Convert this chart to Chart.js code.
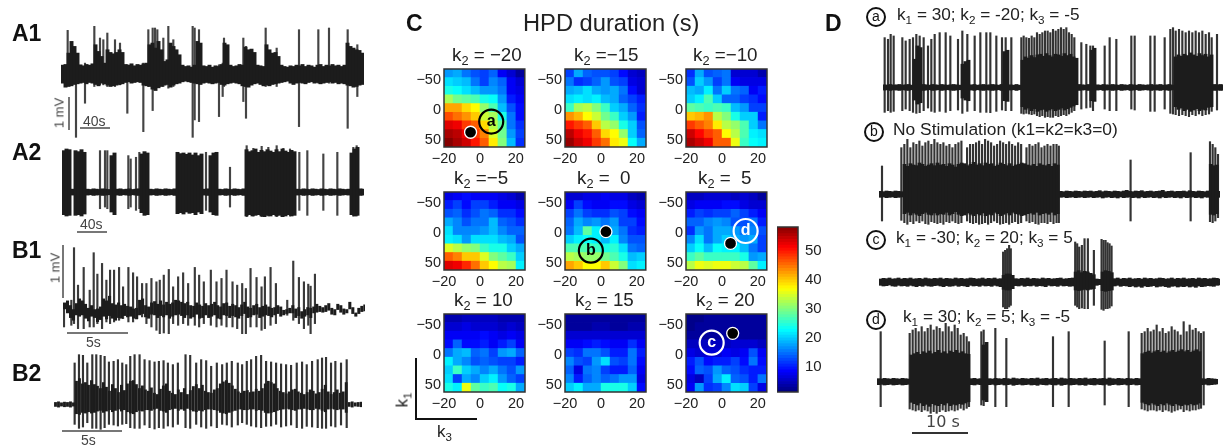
<!DOCTYPE html>
<html>
<head>
<meta charset="utf-8">
<script src="https://cdn.jsdelivr.net/npm/chart.js@4"></script>
<style>
  html, body { margin: 0; background: #fff; overflow: hidden; }
  #page { position: relative; width: 1232px; height: 446px; font-family: "Liberation Sans", Arial, sans-serif; color: #222; }
  canvas { position: absolute; filter: blur(0.45px); }
  .t { position: absolute; white-space: nowrap; line-height: 1; filter: blur(0.25px); }
  .h { font-weight: bold; font-size: 23px; color: #111; }
  .t sub { font-size: 68%; vertical-align: -0.32em; line-height: 0; }
  .bar { position: absolute; background: #777; }
  .ring { position: absolute; width: 16px; height: 16px; border: 2px solid #111; border-radius: 50%; text-align: center; font-size: 14px; line-height: 15px; color: #111; background: #fff; }
  .rot { transform: translate(-50%, -50%) rotate(-90deg); }
</style>
</head>
<body>
<div id="page">
  <div class="t h" style="left:12px;top:22px">A1</div>
  <div class="t h" style="left:12px;top:141px">A2</div>
  <div class="t h" style="left:12px;top:239px">B1</div>
  <div class="t h" style="left:12px;top:362px">B2</div>
  <div class="t h" style="left:406px;top:12px">C</div>
  <div class="t h" style="left:825px;top:12px">D</div>
  <div class="t" style="left:523px;top:12px;font-size:23.7px">HPD duration (s)</div>

  <div class="bar" style="left:68px;top:97px;width:2px;height:33px"></div>
  <div class="t rot" style="left:59px;top:113px;font-size:13px;color:#444">1 mV</div>
  <div class="bar" style="left:80px;top:127px;width:30px;height:2px"></div>
  <div class="t" style="left:83px;top:114px;font-size:14px;color:#444">40s</div>
  <div class="bar" style="left:77px;top:231px;width:30px;height:2px"></div>
  <div class="t" style="left:80px;top:217px;font-size:14px;color:#444">40s</div>
  <div class="bar" style="left:62px;top:245px;width:2px;height:53px"></div>
  <div class="t rot" style="left:55px;top:268px;font-size:13px;color:#444">1 mV</div>
  <div class="bar" style="left:67px;top:332px;width:61px;height:2px"></div>
  <div class="t" style="left:86px;top:335px;font-size:14px;color:#444">5s</div>
  <div class="bar" style="left:62px;top:430px;width:60px;height:2px"></div>
  <div class="t" style="left:81px;top:433px;font-size:14px;color:#444">5s</div>

  <div class="bar" style="left:415px;top:358px;width:2px;height:62px;background:#111"></div>
  <div class="bar" style="left:415px;top:418px;width:62px;height:2px;background:#111"></div>
  <div class="t rot" style="left:402px;top:400px;font-size:17px">k<sub>1</sub></div>
  <div class="t" style="left:437px;top:423px;font-size:17px">k<sub>3</sub></div>

  <div class="ring" style="left:866px;top:7px">a</div>
  <div class="t" style="left:897px;top:5.6px;font-size:17.2px">k<sub>1</sub> = 30; k<sub>2</sub> = -20; k<sub>3</sub> = -5</div>
  <div class="ring" style="left:864px;top:122px">b</div>
  <div class="t" style="left:893px;top:121.3px;font-size:17.4px">No Stimulation (k1=k2=k3=0)</div>
  <div class="ring" style="left:866px;top:230px">c</div>
  <div class="t" style="left:896px;top:228.6px;font-size:17.2px">k<sub>1</sub> = -30; k<sub>2</sub> = 20; k<sub>3</sub> = 5</div>
  <div class="ring" style="left:866px;top:310px">d</div>
  <div class="t" style="left:903px;top:308.3px;font-size:17.2px">k<sub>1</sub> = 30; k<sub>2</sub> = 5; k<sub>3</sub> = -5</div>
  <div class="t" style="left:926px;top:414px;font-size:16px;font-family:'DejaVu Sans';color:#444">10 s</div>
  <div class="bar" style="left:912px;top:432px;width:56px;height:1.5px;background:#333"></div>
</div>

<script>
// heat map axes
const k3 = [-17.5, -12.5, -7.5, -2.5, 2.5, 7.5, 12.5, 17.5, 22.5];
const k1 = [-61, -46.7, -32.3, -18, -3.7, 10.7, 25, 39.3, 53.7];
const k3Ticks = [-20, 0, 20];
const k1Ticks = [-50, 0, 50];
const barTicks = [10, 20, 30, 40, 50];
const barSteps = [1,2,3,4,5,6,7,8,9,10,11,12,13,14,15,16,17,18,19,20,21,22,23,24,25,26,27,28,29,30,31,32,33,34,35,36,37,38,39,40,41,42,43,44,45,46,47,48,49,50,51,52,53,54,55,56,57,58];

const k2Titles = ['= \u221220', '=\u221215', '=\u221210', '=\u22125', '=  0', '=  5', '= 10', '= 15', '= 20'];

// HPD duration per k2, rows are k1 and columns k3
const k2m20 = [[17,18,15,13,12,14,8,6,3],[21,20,19,15,12,16,14,8,6],[24,23,21,19,17,17,15,8,7],[32,29,28,27,24,23,17,10,8],[42,42,39,37,31,27,19,13,9],[47,45,43,40,34,32,24,15,9],[53,52,48,46,39,33,28,15,11],[56,55,52,48,44,35,29,17,12],[58,56,54,50,46,38,30,19,11]];
const k2m15 = [[12,18,14,13,13,12,9,6,5],[15,11,12,14,17,13,12,7,6],[18,19,21,18,17,18,15,9,6],[21,22,21,22,19,18,14,12,10],[26,32,33,30,26,20,18,14,11],[43,41,37,34,29,26,20,17,10],[50,48,46,40,33,31,24,20,13],[55,52,50,46,39,37,31,20,14],[57,54,52,48,45,38,36,23,18]];
const k2m10 = [[11,18,13,14,15,6,6,6,4],[13,20,17,12,15,8,7,7,7],[19,18,22,15,20,15,14,8,10],[20,22,27,20,14,14,12,11,9],[28,27,26,27,26,19,17,12,12],[40,41,43,33,30,24,20,20,10],[48,46,44,38,33,31,27,20,15],[54,51,48,46,37,33,27,22,21],[56,54,52,46,46,36,26,23,22]];
const k2m5 = [[7,8,9,8,8,8,7,6,4],[10,12,9,12,12,10,8,8,7],[13,14,11,13,15,14,11,11,9],[18,16,13,15,15,19,14,13,11],[21,16,16,16,17,19,16,14,14],[22,21,17,21,21,21,19,18,13],[35,33,31,30,26,24,24,20,18],[46,44,40,40,35,30,28,26,20],[53,52,49,45,40,37,33,32,22]];
const k2p0 = [[6,6,7,7,8,7,7,5,4],[8,12,9,8,8,9,9,7,6],[12,15,12,11,11,13,12,9,8],[14,18,16,17,15,17,12,12,9],[15,19,28,22,14,18,15,11,10],[20,22,23,22,19,22,16,13,13],[27,27,27,26,24,25,21,15,14],[33,32,31,31,29,27,24,19,20],[42,40,37,37,40,34,30,21,22]];
const k2p5 = [[5,5,6,6,6,5,6,5,3],[7,8,8,8,9,9,7,6,6],[10,12,11,12,12,14,12,10,8],[14,14,16,17,16,13,13,15,10],[11,17,15,18,18,17,15,16,13],[16,21,15,18,20,18,17,18,12],[20,23,19,23,22,22,19,15,12],[26,28,26,26,26,26,24,17,18],[33,36,35,36,36,34,33,28,22]];
const k2p10 = [[4,4,5,5,5,5,4,4,4],[6,6,7,6,6,6,5,6,5],[8,8,8,8,9,8,7,8,7],[9,14,9,9,10,8,10,12,8],[15,18,19,14,15,12,17,18,14],[22,18,16,13,14,13,12,12,10],[20,26,20,18,16,18,15,13,17],[21,12,18,16,20,22,17,14,12],[24,22,36,28,26,27,23,24,18]];
const k2p15 = [[3,3,3,3,3,3,3,3,3],[3,3,3,4,4,3,3,4,4],[6,6,6,6,6,6,6,6,6],[8,8,9,10,9,8,8,11,8],[12,11,15,15,13,10,10,15,10],[16,13,12,17,21,13,12,15,9],[14,7,15,16,12,10,10,14,8],[16,10,14,16,14,15,17,17,7],[20,22,18,18,24,24,24,20,9]];
const k2p20 = [[2,2,3,3,3,3,3,3,3],[2,3,3,3,3,3,3,3,3],[3,3,3,3,3,3,3,3,3],[5,5,5,5,5,6,6,6,5],[7,6,6,6,8,7,8,13,8],[10,13,9,10,10,12,9,15,9],[9,14,13,17,14,13,11,10,10],[7,5,12,18,22,14,13,10,15],[8,17,11,12,16,21,20,12,7]];

// black dots and lettered rings on the heat maps
const dotPanel = [0, 4, 5, 8];
const dotK3 = [-5.2, 2.8, 4.8, 6];
const dotK1 = [36.6, -2.4, 17, -36];
const ringPanel = [0, 4, 5, 8];
const ringK3 = [6.3, -5.6, 13.2, -5.7];
const ringK1 = [19, 29, -3.5, -20.6];
const ringLetter = ['a', 'b', 'd', 'c'];

// recordings: envelope per time bin (Top, Bot) and single spikes (T, Hi, Lo)
const a1Top = [24,26,60,95,80,60,25,22,26,24,28,85,65,50,30,70,62,58,62,70,62,26,24,28,22,26,24,28,30,85,90,75,95,70,35,40,90,80,70,55,24,20,22,18,24,95,90,22,20,24,18,22,20,26,90,85,24,20,22,26,24,78,70,72,62,24,22,20,85,70,60,62,50,24,20,18,22,20,24,22,26,20,24,22,18,24,26,20,24,22,26,22,24,20,24,90,80,75,70,68,60];
const a1Bot = [-30,-42,-40,-38,-34,-32,-30,-28,-32,-28,-30,-34,-38,-30,-32,-36,-40,-38,-36,-34,-32,-28,-26,-30,-28,-26,-28,-36,-38,-40,-48,-52,-44,-40,-36,-34,-42,-36,-32,-30,-26,-24,-26,-28,-30,-32,-34,-30,-28,-30,-32,-30,-28,-34,-36,-32,-30,-28,-30,-32,-38,-40,-42,-36,-32,-30,-34,-38,-36,-38,-34,-32,-30,-28,-26,-24,-30,-34,-30,-28,-30,-32,-28,-26,-30,-28,-32,-30,-28,-26,-30,-28,-32,-30,-32,-36,-38,-42,-40,-36,-34];
const a1SpikeT = [203,228,255,283,300,310,322,345,360,382,430,445,458,465,472,490,505,520,578,584,597,657,668,672,730,738,797,830,897,955,987,1043,1072];
const a1SpikeHi = [128,30,30,140,105,100,120,100,90,25,30,130,135,135,130,105,140,100,140,135,130,25,30,105,105,80,135,75,130,130,135,130,85];
const a1SpikeLo = [-35,-192,-90,-40,-35,-35,-40,-40,-35,-120,-175,-40,-112,-45,-40,-40,-45,-40,-192,-140,-145,-130,-70,-40,-85,-135,-40,-40,-160,-30,-30,-165,-70];

const a2Top = [125,130,128,9,125,122,128,120,9,8,10,9,8,10,9,8,110,118,9,10,8,9,10,8,9,10,115,122,118,9,8,10,9,8,10,9,8,10,120,116,118,114,118,112,118,110,115,9,10,110,118,120,9,8,10,9,8,10,9,8,10,128,122,125,130,120,126,122,128,124,120,128,122,130,124,120,126,122,9,8,10,9,8,10,9,8,10,9,8,10,9,8,10,9,8,9,118,130,135,10,9];
const a2Bot = [-68,-72,-70,-9,-70,-68,-72,-66,-9,-8,-10,-9,-8,-10,-9,-8,-60,-68,-9,-10,-8,-9,-10,-8,-9,-10,-62,-70,-68,-9,-8,-10,-9,-8,-10,-9,-8,-10,-65,-62,-66,-60,-64,-62,-68,-60,-65,-9,-10,-60,-68,-70,-9,-8,-10,-9,-8,-10,-9,-8,-10,-72,-68,-72,-70,-68,-72,-74,-70,-72,-68,-72,-70,-74,-72,-68,-72,-70,-9,-8,-10,-9,-8,-10,-9,-8,-10,-9,-8,-10,-9,-8,-10,-9,-8,-9,-68,-72,-70,-10,-9];
const a2SpikeT = [300,315,322,385,392,408,418,618,690,740,760,785,805,830,850,870,898,922,970,1012,1060,1070];
const a2SpikeHi = [125,125,125,110,100,105,120,120,75,140,132,138,135,140,132,130,120,125,115,120,135,140];
const a2SpikeLo = [-50,-45,-50,-50,-45,-55,-50,-55,-45,-74,-72,-74,-72,-74,-72,-72,-55,-70,-55,-70,-72,-72];

const b1Top = [22,28,14,2,20,34,28,18,6,14,2,4,10,34,28,42,20,16,22,14,18,12,10,4,6,30,34,14,10,22,26,18,28,16,24,18,22,30,28,24,20,24,14,12,22,16,12,20,14,18,24,14,10,20,22,12,18,14,8,16,24,10,6,14,18,8,12,16,10,6,8,14,10,0,2,6,14,4,8,-4,2,8,6,10,18,12,8,14,20,6,2,18,14,4,2,24,8,-8,6,12,16];
const b1Bot = [4,-8,-22,-30,-14,-18,-14,-24,-32,-18,-22,-34,-28,-18,-26,-16,-24,-30,-22,-24,-16,-20,-18,-24,-26,-14,-10,-20,-24,-12,-14,-22,-16,-20,-14,-24,-18,-14,-12,-16,-22,-14,-24,-20,-12,-24,-22,-14,-22,-18,-14,-24,-26,-14,-16,-22,-16,-20,-24,-16,-10,-22,-20,-14,-12,-22,-18,-14,-16,-20,-14,-10,-18,-14,-10,-8,-8,-22,-16,-24,-18,-14,-22,-8,-6,-4,-6,-4,0,-12,-14,2,-6,-12,-8,4,-10,-18,-10,-4,-2];
const b1SpikeT = [193,215,223,235,252,270,282,293,307,320,331,343,358,370,386,400,412,427,440,455,470,480,492,507,520,535,550,565,585,598,612,633,650,665,680,698,712,727,738,752,770,785,795,812,828,862,880,897,912,925,932,945];
const b1SpikeHi = [15,30,187,75,128,60,172,108,140,90,120,120,128,70,128,112,100,80,80,95,85,90,105,122,70,100,112,80,128,105,85,120,85,95,120,85,75,80,65,125,98,70,100,128,80,30,147,98,85,78,72,108];
const b1SpikeLo = [-50,-45,-40,-55,-55,-50,-50,-40,-55,-35,-40,-35,-30,-25,-35,-35,-25,-20,-40,-50,-60,-70,-68,-70,-40,-45,-40,-45,-45,-50,-40,-45,-50,-45,-50,-50,-55,-70,-70,-50,-50,-60,-55,-45,-40,-15,-30,-40,-55,-45,-70,-40];

const b2Top = [6,8,5,7,6,8,5,70,78,62,66,58,72,60,55,48,66,52,40,60,48,36,58,42,62,70,72,60,48,56,44,40,50,34,30,46,56,62,40,34,30,44,36,48,30,42,54,60,48,58,40,36,34,44,48,62,68,72,64,56,46,38,34,40,42,36,38,46,40,48,62,70,66,62,48,40,36,32,38,44,46,38,34,30,36,44,40,32,36,46,58,38,30,36,44,34,38,66,6,8,5,6,7];
const b2Bot = [-6,-8,-5,-7,-6,-8,-5,-28,-30,-24,-26,-22,-26,-24,-20,-18,-24,-20,-16,-22,-18,-14,-20,-16,-22,-26,-28,-22,-18,-20,-16,-16,-18,-14,-12,-18,-20,-24,-16,-14,-12,-18,-14,-18,-12,-16,-20,-22,-18,-20,-16,-14,-14,-16,-18,-24,-26,-28,-24,-20,-18,-14,-14,-16,-16,-14,-14,-18,-16,-18,-24,-26,-24,-22,-18,-16,-14,-12,-14,-16,-18,-14,-14,-12,-14,-16,-16,-12,-14,-18,-22,-14,-12,-14,-16,-14,-14,-24,-6,-8,-5,-6,-7];
const b2SpikeT = [225,238,250,263,278,290,303,315,328,342,355,368,380,392,405,420,435,450,465,478,492,505,520,535,558,572,590,605,620,635,652,668,682,697,715,728,742,755,770,785,800,815,830,845,860,875,892,908,922,938,955,968,980,995,1008,1025,1042];
const b2SpikeHi = [125,150,148,125,150,150,148,145,128,130,135,125,120,145,150,150,135,132,128,130,132,125,120,125,150,148,125,135,132,115,125,120,125,130,125,120,130,135,145,148,130,128,125,122,120,118,125,128,120,130,135,140,142,125,130,125,135];
const b2SpikeLo = [-60,-72,-68,-55,-72,-72,-75,-70,-60,-62,-65,-60,-58,-70,-72,-72,-62,-70,-74,-70,-72,-65,-68,-60,-70,-72,-60,-68,-72,-65,-70,-60,-62,-68,-62,-55,-60,-65,-68,-70,-66,-65,-60,-68,-65,-62,-70,-72,-66,-68,-70,-72,-72,-65,-68,-62,-70];

const daTop = [8,7,9,7,8,9,7,8,9,7,85,125,120,9,8,7,9,8,7,9,8,7,8,9,8,7,70,78,82,8,9,7,8,9,7,8,9,8,7,9,108,112,8,7,9,7,82,92,88,96,90,98,100,94,102,96,92,100,98,94,102,96,100,92,88,9,8,7,9,112,118,8,7,9,8,7,9,8,7,9,8,7,9,8,7,9,8,7,8,9,7,8,9,7,8,9,7,92,98,94,100,96,104,98,94,102,96,100,92,98,9,8,9,8];
const daBot = [-8,-7,-9,-7,-8,-9,-7,-8,-9,-7,-38,-50,-46,-9,-8,-7,-9,-8,-7,-9,-8,-7,-8,-9,-8,-7,-32,-38,-40,-8,-9,-7,-8,-9,-7,-8,-9,-8,-7,-9,-40,-42,-8,-7,-9,-7,-58,-66,-62,-70,-64,-72,-68,-66,-72,-68,-64,-70,-66,-62,-68,-64,-60,-56,-52,-9,-8,-7,-9,-40,-42,-8,-7,-9,-8,-7,-9,-8,-7,-9,-8,-7,-9,-8,-7,-9,-8,-7,-8,-9,-7,-8,-9,-7,-8,-9,-7,-58,-66,-62,-70,-66,-72,-68,-64,-70,-66,-68,-60,-58,-9,-8,-9,-8];
const daSpikeT = [195,205,213,222,248,258,270,280,290,300,312,325,335,345,360,378,392,415,428,443,465,482,500,512,530,547,558,575,605,612,620,628,636,644,652,660,668,676,684,692,700,708,716,724,732,740,748,756,764,785,800,812,820,855,870,890,935,945,992,1005,1035,1052,1060,1068,1078,1088,1098,1108,1118,1128,1138,1148,1158,1168,1176,1192];
const daSpikeHi = [150,145,160,155,150,140,145,150,160,155,150,125,145,160,165,165,155,145,170,160,155,165,165,165,155,150,150,150,150,155,150,148,155,150,165,160,165,170,170,165,175,170,175,180,175,180,165,160,150,135,130,125,125,125,150,145,155,155,155,155,150,175,180,170,175,170,165,170,165,170,165,170,160,165,150,160];
const daSpikeLo = [-75,-70,-75,-72,-70,-65,-70,-75,-78,-76,-70,-62,-72,-75,-72,-75,-70,-68,-78,-72,-70,-75,-75,-76,-72,-68,-70,-70,-78,-80,-78,-80,-82,-80,-85,-88,-85,-90,-88,-90,-90,-85,-88,-85,-82,-85,-80,-75,-70,-65,-62,-60,-70,-65,-70,-70,-65,-68,-72,-72,-65,-78,-80,-82,-85,-82,-85,-88,-82,-85,-80,-85,-82,-80,-72,-68];

const dbTop = [9,8,10,9,8,10,9,8,90,84,92,88,86,94,90,84,88,92,86,94,88,90,84,92,88,82,90,94,92,86,90,96,88,92,86,94,90,92,84,88,94,90,86,92,84,88,90,94,92,88,86,90,84,92,88,86,90,84,92,88,9,8,10,9,8,10,9,8,10,9,10,8,9,11,8,10,9,8,10,9,8,10,12,9,8,10,9,11,8,9,10,8,9,10,12,8,9,10,8,9,9,10,8,11,9,8,10,9,8,10,90,86,88,9];
const dbBot = [-9,-8,-10,-9,-8,-10,-9,-8,-58,-54,-62,-56,-60,-64,-58,-54,-60,-62,-56,-62,-58,-60,-54,-62,-58,-52,-60,-64,-62,-56,-60,-64,-58,-62,-56,-64,-60,-62,-54,-58,-64,-60,-56,-62,-54,-58,-60,-64,-62,-58,-56,-60,-54,-62,-58,-56,-60,-54,-62,-58,-9,-8,-10,-9,-8,-10,-9,-8,-10,-9,-8,-10,-9,-8,-11,-9,-8,-10,-9,-11,-8,-10,-9,-8,-10,-9,-11,-8,-10,-9,-8,-10,-9,-11,-8,-10,-9,-8,-10,-9,-11,-8,-10,-9,-8,-10,-9,-11,-8,-9,-60,-62,-58,-9];
const dbSpikeT = [187,245,254,263,272,281,290,299,308,317,326,335,344,353,362,371,380,389,398,407,416,425,442,451,460,469,478,487,496,505,514,523,532,541,550,559,568,577,586,595,604,620,629,638,647,656,665,674,683,692,701,710,717,932,1112,1170,1178,1186,1194];
const dbSpikeHi = [85,140,150,165,140,155,150,160,145,155,160,150,165,155,150,155,145,150,140,150,155,160,140,150,150,155,160,150,165,160,155,145,150,160,155,150,158,150,145,155,150,140,150,145,150,155,140,145,150,145,150,150,145,103,125,158,150,140,120];
const dbSpikeLo = [-80,-78,-85,-90,-82,-88,-80,-85,-80,-88,-90,-82,-85,-88,-85,-90,-82,-85,-80,-85,-88,-85,-80,-85,-88,-85,-90,-88,-85,-90,-85,-80,-85,-90,-88,-85,-90,-85,-82,-88,-85,-80,-85,-82,-88,-90,-85,-85,-88,-82,-88,-85,-85,-80,-80,-82,-85,-80,-70];

const dcTop = [9,11,10,12,9,10,12,9,11,10,12,9,10,11,9,12,10,9,11,10,12,9,11,10,9,12,10,11,9,10,12,11,9,10,12,9,11,10,12,9,10,20,24,24,20,10,9,11,10,12,9,11,10,9,12,10,11,9,10,11,12,9,10,11,12,30,34,28,32,30,26,22,9,8,30,34,32,28,10,12,9,11,10,12,9,10,11,9,12,10,11,9,10,12,11,9,10,12,9,11,10,12,9,10,11,9,12,10,11,9,10,12,11,9];
const dcBot = [-10,-12,-11,-9,-12,-13,-10,-12,-11,-13,-10,-12,-14,-11,-13,-10,-12,-13,-11,-10,-12,-14,-11,-13,-12,-10,-13,-11,-12,-14,-10,-12,-11,-13,-10,-12,-11,-13,-10,-12,-14,-22,-24,-24,-20,-11,-12,-10,-13,-11,-12,-10,-13,-11,-12,-14,-10,-12,-11,-13,-10,-12,-11,-13,-12,-24,-26,-24,-22,-24,-22,-20,-10,-8,-26,-28,-26,-24,-12,-10,-13,-11,-12,-14,-12,-15,-13,-16,-12,-14,-13,-11,-15,-13,-12,-14,-16,-13,-12,-15,-13,-14,-12,-15,-13,-16,-12,-14,-13,-11,-12,-13,-10,-9];
const dcSpikeT = [550,556,562,568,573,766,772,778,786,794,804,822,845,851,857,863,869,875];
const dcSpikeHi = [90,95,100,110,100,120,115,105,110,130,130,95,128,125,125,118,115,108];
const dcSpikeLo = [-75,-80,-80,-75,-70,-70,-75,-80,-78,-80,-80,-70,-82,-85,-80,-80,-78,-72];

const ddTop = [9,8,10,9,8,10,9,8,10,9,8,80,84,88,82,90,86,92,84,88,94,86,90,84,92,88,94,86,90,84,82,9,10,8,9,110,118,9,8,10,9,8,10,9,8,11,9,8,10,9,8,10,9,11,8,9,10,8,9,10,8,11,9,8,10,9,8,10,9,11,8,9,10,8,9,10,8,11,9,8,10,9,8,10,9,8,10,9,84,88,92,86,90,94,88,92,86,90,94,88,92,96,90,94,88,92,96,90,9,8,10,9,8,7];
const ddBot = [-9,-8,-10,-9,-8,-10,-9,-8,-10,-9,-8,-62,-66,-70,-64,-72,-68,-74,-66,-70,-72,-66,-70,-64,-72,-68,-70,-66,-68,-64,-60,-9,-10,-8,-9,-55,-60,-9,-8,-10,-9,-8,-10,-9,-8,-11,-9,-8,-10,-9,-8,-10,-9,-11,-8,-9,-10,-8,-9,-10,-8,-11,-9,-8,-10,-9,-8,-10,-9,-11,-8,-9,-10,-8,-9,-10,-8,-11,-9,-8,-10,-9,-8,-10,-9,-8,-10,-9,-62,-66,-70,-64,-68,-72,-66,-70,-64,-68,-72,-66,-70,-72,-68,-70,-66,-70,-68,-64,-9,-8,-10,-9,-8,-7];
const ddSpikeT = [183,270,279,288,297,306,315,324,333,342,351,360,369,378,387,396,405,414,423,432,441,448,485,492,527,560,700,747,855,927,966,975,984,993,1002,1011,1020,1029,1038,1047,1056,1065,1074,1083,1092,1101,1110,1119,1128,1137,1144,1152];
const ddSpikeHi = [150,145,155,160,150,165,150,160,170,155,165,160,150,175,165,150,170,160,140,145,135,120,150,155,160,130,135,150,122,150,145,150,160,150,155,170,150,160,145,150,165,155,150,140,180,150,170,155,160,150,145,150];
const ddSpikeLo = [-75,-82,-85,-88,-85,-90,-85,-88,-95,-90,-95,-90,-85,-90,-88,-85,-88,-85,-80,-85,-80,-75,-70,-72,-75,-75,-75,-75,-70,-75,-82,-85,-88,-85,-85,-88,-85,-90,-85,-88,-92,-88,-85,-82,-90,-85,-88,-85,-85,-82,-80,-70];

const page = document.getElementById('page');
Chart.defaults.animation = false;
Chart.defaults.responsive = false;
Chart.defaults.events = [];
Chart.defaults.plugins.legend.display = false;
Chart.defaults.plugins.tooltip.enabled = false;
Chart.defaults.font.family = '"Liberation Sans", Arial, sans-serif';

function addCanvas(left, top, w, h) {
  const c = document.createElement('canvas');
  c.width = w;
  c.height = h;
  c.style.left = left + 'px';
  c.style.top = top + 'px';
  page.insertBefore(c, page.firstChild);
  return c;
}

function jet(v) {
  const t = (v - 1.4) / (58.3 - 1.4);
  const f = d => Math.round(255 * Math.max(0, Math.min(1, 1.5 - Math.abs(4 * t - d))));
  return `rgb(${f(3)},${f(2)},${f(1)})`;
}

const minus = v => String(v).replace('-', '\u2212');

const frame = {
  id: 'frame',
  afterDatasetsDraw(chart) {
    const a = chart.chartArea, ctx = chart.ctx;
    ctx.save();
    ctx.strokeStyle = '#333';
    ctx.lineWidth = 1.5;
    ctx.strokeRect(a.left, a.top, a.right - a.left, a.bottom - a.top);
    ctx.restore();
  }
};

const ringText = {
  id: 'ringText',
  afterDatasetsDraw(chart, args, opts) {
    if (!opts.letter) return;
    const p = chart.getDatasetMeta(opts.index).data[0], ctx = chart.ctx;
    ctx.save();
    ctx.fillStyle = opts.color;
    ctx.font = 'bold 16px "Liberation Sans"';
    ctx.textAlign = 'center';
    ctx.textBaseline = 'middle';
    ctx.fillText(opts.letter, p.x, p.y);
    ctx.restore();
  }
};

// heat maps
const grids = [k2m20, k2m15, k2m10, k2m5, k2p0, k2p5, k2p10, k2p15, k2p20];
const plotLeft = [444, 565, 686];
const plotTop = [69, 192, 314];
const titleLeft = [452, 574, 693, 454, 577, 698, 454, 575, 696];
const titleBase = [62, 185, 307];
const ringColors = ['#000', '#000', '#fff', '#fff'];

grids.forEach((grid, n) => {
  const row = Math.floor(n / 3), col = n % 3;
  const cells = [];
  grid.forEach((r, i) => r.forEach((v, j) => cells.push({ x: k3[j], y: k1[i], v: v })));

  const datasets = [{
    order: 2,
    data: cells,
    pointStyle: 'rect',
    pointBorderWidth: 0,
    pointBackgroundColor: c => jet(c.raw.v),
    pointRadius: c => {
      const s = c.chart.scales.x;
      return (s.getPixelForValue(5) - s.getPixelForValue(0)) / Math.SQRT2 + 0.3;
    }
  }];

  const d = dotPanel.indexOf(n);
  if (d >= 0) {
    datasets.push({
      order: 0,
      data: [{ x: dotK3[d], y: dotK1[d] }],
      pointRadius: 6,
      pointBackgroundColor: '#000',
      pointBorderColor: '#fff',
      pointBorderWidth: 1.3
    });
  }
  const g = ringPanel.indexOf(n);
  if (g >= 0) {
    datasets.push({
      order: 1,
      data: [{ x: ringK3[g], y: ringK1[g] }],
      pointRadius: 12,
      pointBackgroundColor: 'transparent',
      pointBorderColor: ringColors[g],
      pointBorderWidth: 2.2
    });
  }

  new Chart(addCanvas(plotLeft[col] - 40, plotTop[row] - 20, 135, 122), {
    type: 'scatter',
    data: { datasets: datasets },
    plugins: [frame, ringText],
    options: {
      layout: { padding: { top: 20, right: 14 } },
      plugins: {
        ringText: g >= 0 ? { letter: ringLetter[g], color: ringColors[g], index: datasets.length - 1 } : {}
      },
      scales: {
        x: {
          type: 'linear', min: -20, max: 25,
          grid: { display: false, drawTicks: false }, border: { display: false },
          afterBuildTicks: s => { s.ticks = k3Ticks.map(v => ({ value: v })); },
          afterFit: s => { s.height = 24; },
          ticks: { color: '#222', font: { size: 14.5 }, maxRotation: 0, padding: 3, autoSkip: false, callback: minus }
        },
        y: {
          type: 'linear', min: -68, max: 61, reverse: true,
          grid: { display: false, drawTicks: false }, border: { display: false },
          afterBuildTicks: s => { s.ticks = k1Ticks.map(v => ({ value: v })); },
          afterFit: s => { s.width = 40; },
          ticks: { color: '#222', font: { size: 14.5 }, padding: 3, autoSkip: false, callback: minus }
        }
      }
    }
  });

  const title = document.createElement('div');
  title.className = 't';
  title.style.cssText = `left:${titleLeft[n]}px;top:${titleBase[row] - 15.9}px;font-size:18.8px;white-space:pre`;
  title.innerHTML = 'k<sub>2</sub> ' + k2Titles[n];
  page.appendChild(title);
});

// colour bar
new Chart(addCanvas(777, 207, 61, 205), {
  type: 'bar',
  data: {
    labels: [''],
    datasets: barSteps.map(v => ({
      data: [[v, v + 1.05]],
      backgroundColor: jet(v + 0.5),
      barPercentage: 1,
      categoryPercentage: 1,
      grouped: false
    }))
  },
  plugins: [frame],
  options: {
    layout: { padding: { top: 20, bottom: 20 } },
    scales: {
      x: { display: false },
      y: {
        position: 'right', min: 1.4, max: 58.3,
        grid: { display: false, drawTicks: false }, border: { display: false },
        afterBuildTicks: s => { s.ticks = barTicks.map(v => ({ value: v })); },
        afterFit: s => { s.width = 40; },
        ticks: { color: '#222', font: { size: 15 }, padding: 7 }
      }
    }
  }
});

// recordings, one envelope bar every 9 time units
function trace(originX, base, xMin, xMax, up, down, top, bot, spikeT, spikeHi, spikeLo, spikeColor, bodyWidth) {
  const canvas = addCanvas(originX + xMin / 3, base - up / 3, Math.round((xMax - xMin) / 3), Math.round((up + down) / 3));
  new Chart(canvas, {
    type: 'bar',
    data: {
      datasets: [
        { data: top.map((y, i) => ({ x: xMin + 4.5 + 9 * i, y: [bot[i], y] })), backgroundColor: '#1c1c1c', barThickness: bodyWidth, grouped: false },
        { data: spikeT.map((x, i) => ({ x: x, y: [spikeLo[i], spikeHi[i]] })), backgroundColor: spikeColor, barThickness: 1.5, grouped: false }
      ]
    },
    options: {
      layout: { padding: 0 },
      scales: {
        x: { type: 'linear', display: false, min: xMin, max: xMax, offset: false },
        y: { type: 'linear', display: false, min: -down, max: up }
      }
    }
  });
}

trace(0, 72.7, 183, 1092, 150, 200, a1Top, a1Bot, a1SpikeT, a1SpikeHi, a1SpikeLo, '#444', 3.3);
trace(0, 192, 186, 1092, 145, 78, a2Top, a2Bot, a2SpikeT, a2SpikeHi, a2SpikeLo, '#444', 3.3);
trace(0, 310, 190, 1095, 195, 80, b1Top, b1Bot, b1SpikeT, b1SpikeHi, b1SpikeLo, '#3a3a3a', 2.4);
trace(0, 405, 163, 1088, 155, 80, b2Top, b2Bot, b2SpikeT, b2SpikeHi, b2SpikeLo, '#333', 2.2);
trace(820, 87.3, 190, 1210, 185, 95, daTop, daBot, daSpikeT, daSpikeHi, daSpikeLo, '#333', 3.2);
trace(820, 194.3, 178, 1200, 172, 95, dbTop, dbBot, dbSpikeT, dbSpikeHi, dbSpikeLo, '#333', 3.2);
trace(820, 281.7, 178, 1200, 135, 90, dcTop, dcBot, dcSpikeT, dcSpikeHi, dcSpikeLo, '#333', 3.2);
trace(820, 381.7, 172, 1195, 185, 100, ddTop, ddBot, ddSpikeT, ddSpikeHi, ddSpikeLo, '#333', 3.2);
</script>
</body>
</html>
